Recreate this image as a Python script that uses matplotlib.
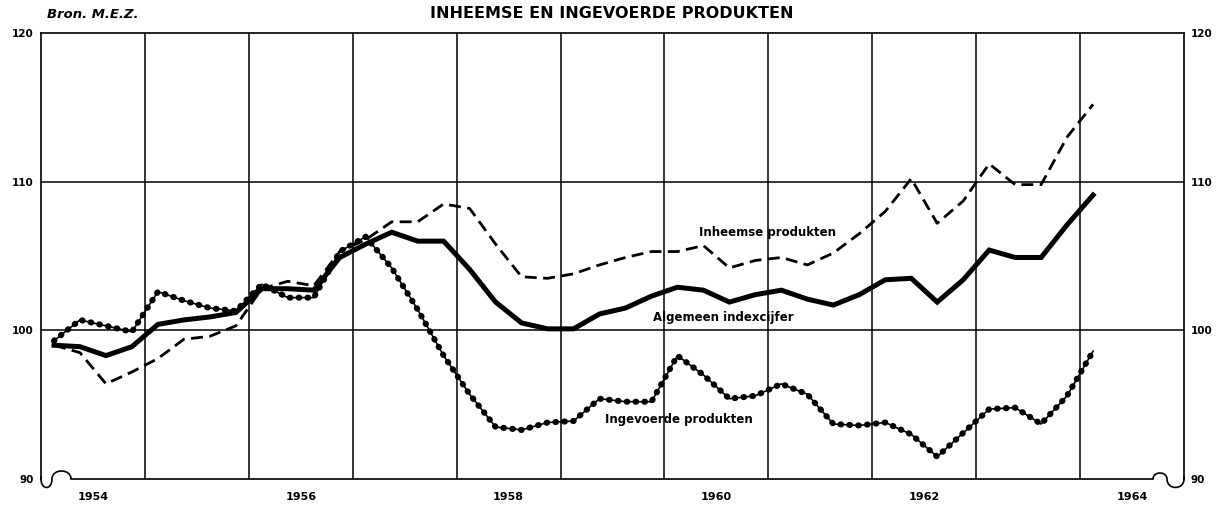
"""
Inheemse en ingevoerde produkten: kwartaalindexcijfers 1954-1964 (bron M.E.Z.).
"""
import matplotlib
matplotlib.use("Agg")
import matplotlib.pyplot as plt
import matplotlib.transforms as mtransforms
from matplotlib.path import Path
from matplotlib.patches import PathPatch

# ── data: quarterly index, Q1 1954 .. Q1 1964 ────────────────────────────────
YEARS = list(range(1954, 1965))
QUARTERS = [(y, q) for y in range(1954, 1964) for q in range(1, 5)] + [(1964, 1)]

algemeen = [99.0, 98.9, 98.3, 98.9, 100.4, 100.7, 100.9, 101.2, 102.8, 102.8,
            102.7, 104.9, 105.8, 106.6, 106.0, 106.0, 104.1, 101.9, 100.5, 100.1,
            100.1, 101.1, 101.5, 102.3, 102.9, 102.7, 101.9, 102.4, 102.7, 102.1,
            101.7, 102.4, 103.4, 103.5, 101.9, 103.4, 105.4, 104.9, 104.9, 107.1,
            109.1]
inheemse = [99.0, 98.5, 96.4, 97.2, 98.1, 99.4, 99.6, 100.3, 102.8, 103.3,
            103.0, 105.3, 106.1, 107.3, 107.3, 108.5, 108.2, 105.8, 103.6, 103.5,
            103.8, 104.4, 104.9, 105.3, 105.3, 105.7, 104.2, 104.7, 104.9, 104.4,
            105.2, 106.5, 108.0, 110.2, 107.2, 108.7, 111.2, 109.8, 109.8, 113.0,
            115.2]
ingevoerde = [99.3, 100.7, 100.3, 99.9, 102.6, 102.0, 101.5, 101.3, 103.1, 102.2,
              102.2, 105.3, 106.3, 104.2, 101.4, 98.3, 95.7, 93.5, 93.3, 93.8,
              93.9, 95.4, 95.2, 95.2, 98.3, 97.0, 95.4, 95.6, 96.4, 95.7,
              93.7, 93.6, 93.8, 93.0, 91.5, 93.1, 94.7, 94.8, 93.7, 95.6,
              98.6]

YEAR_LABELS = ["1954", "1956", "1958", "1960", "1962", "1964"]
Y_TICKS = [90, 100, 110, 120]

# quarter midpoints in decimal years
x = [y + (q - 0.5) / 4 for y, q in QUARTERS]

BOLD = dict(family="DejaVu Sans", fontweight="bold")

fig = plt.figure(figsize=(12.16, 5.09), dpi=100)
ax = fig.add_axes([41 / 1216, 1 - 479 / 509, 1143 / 1216, 446 / 509])

ax.set_xlim(1954, 1965)
ax.set_ylim(90, 120)

# grid: every year, 100 and 110
for yr in YEARS[1:]:
    ax.axvline(yr, color="k", lw=1.1, zorder=1)
for yv in (100, 110):
    ax.axhline(yv, color="k", lw=1.1, zorder=1)

# ── series ───────────────────────────────────────────────────────────────────
ax.plot(x, inheemse, color="k", lw=2.0, linestyle=(0, (4.3, 2.3)), zorder=3)
ax.plot(x, algemeen, color="k", lw=3.6, solid_joinstyle="miter", zorder=4)
ax.plot(x, ingevoerde, color="k", lw=1.2, zorder=3)
ax.plot(x, ingevoerde, color="k", lw=4.4, linestyle=(0, (0.1, 1.35)),
        dash_capstyle="round", zorder=3)

ax.text(1960.99, 106.6, "Inheemse produkten", ha="center", va="center",
        fontsize=8.5, **BOLD)
ax.text(1960.57, 100.85, "Algemeen indexcijfer", ha="center", va="center",
        fontsize=8.5, **BOLD)
ax.text(1960.14, 94.0, "Ingevoerde produkten", ha="center", va="center",
        fontsize=8.5, **BOLD)

# ── axes frame with break marks at the bottom corners ────────────────────────
for s in ("left", "right", "top", "bottom"):
    ax.spines[s].set_linewidth(1.2)
ax.spines["bottom"].set_bounds(1954 + 30 / 104, 1965 - 31 / 104)

C4 = Path.CURVE4
left_mark = Path(
    [(0, 3), (0, 0), (0, -11.3), (11, -11.3), (11, 0),
     (11, 10.7), (30, 10.7), (30, 0)],
    [Path.MOVETO, Path.LINETO, C4, C4, C4, C4, C4, C4])
right_mark = Path(
    [(-31, 0), (-31, 8), (-17, 8), (-17, 0),
     (-17, -11.3), (0, -11.3), (0, 0), (0, 3)],
    [Path.MOVETO, C4, C4, C4, C4, C4, C4, Path.LINETO])
for path, corner in ((left_mark, 0), (right_mark, 1)):
    tr = mtransforms.IdentityTransform() + mtransforms.ScaledTranslation(
        corner, 0, ax.transAxes)
    ax.add_patch(PathPatch(path, transform=tr, fill=False, lw=1.2,
                           ec="k", clip_on=False))

# ── ticks ────────────────────────────────────────────────────────────────────
ax.set_xticks([int(s) + 0.5 for s in YEAR_LABELS])
ax.set_xticklabels(YEAR_LABELS, fontsize=8, **BOLD)
ax.set_yticks(Y_TICKS)
ax.set_yticklabels([str(v) for v in Y_TICKS], fontsize=7.5, **BOLD)
ax.tick_params(axis="x", length=0, pad=9)
ax.tick_params(axis="y", length=0, pad=5, labelright=True)

fig.text(47 / 1216, 1 - 14 / 509, "Bron. M.E.Z.", ha="left", va="center",
         fontsize=9.5, fontweight="bold", fontstyle="italic")
fig.text(0.503, 1 - 14 / 509, "INHEEMSE EN INGEVOERDE PRODUKTEN",
         ha="center", va="center", fontsize=11.5, fontweight="bold")

fig.savefig("out.png", dpi=100)
